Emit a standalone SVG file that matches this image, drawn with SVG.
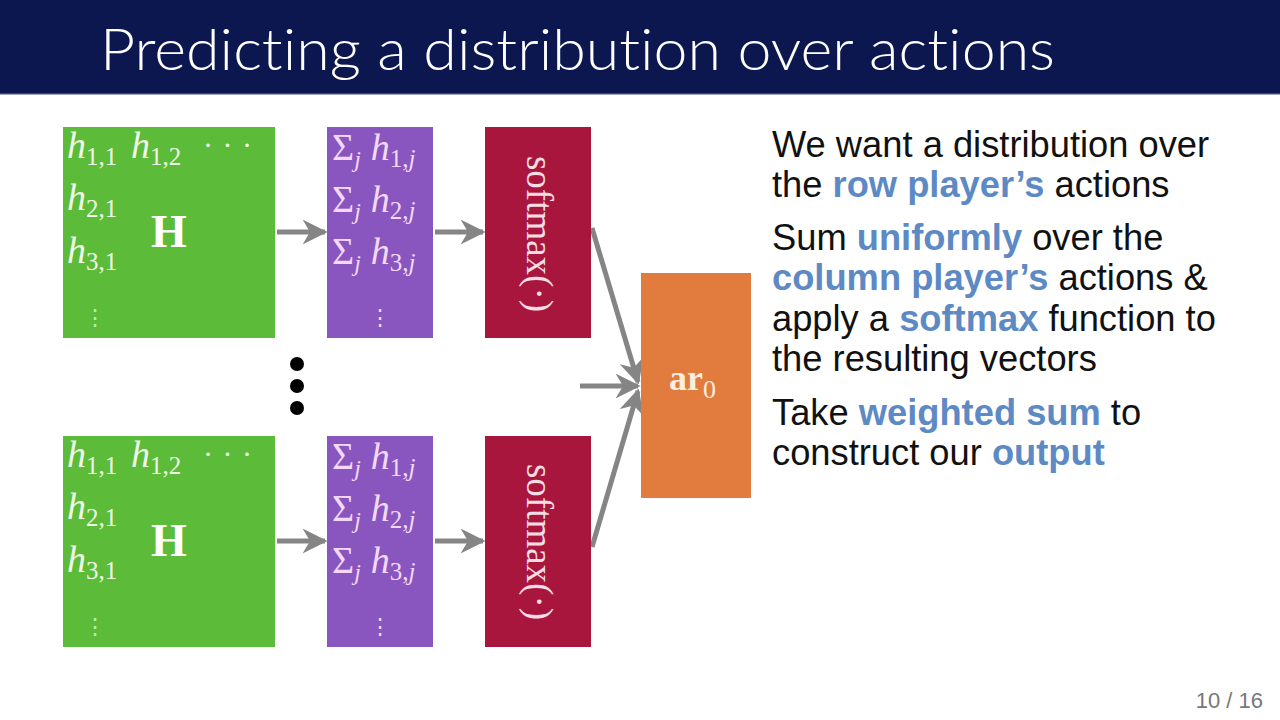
<svg xmlns="http://www.w3.org/2000/svg" width="1280" height="720" viewBox="0 0 1280 720">
<defs>
<style>
.math{font-family:"Liberation Serif","DejaVu Serif",serif;}
.it{font-style:italic;}
.gtxt{fill:#eef9e6;}
.ptxt{fill:#f3d9f7;}
.body{font-family:"Liberation Sans",Arial,sans-serif;font-size:36.3px;fill:#111111;}
.hl{fill:#5d8ac4;font-weight:bold;}
.conn{stroke:#858585;stroke-width:5;fill:none;marker-end:url(#ah);}
</style>
<marker id="ah" viewBox="0 0 10 10" refX="9" refY="5" markerWidth="5" markerHeight="5" markerUnits="strokeWidth" orient="auto">
<path d="M0,0 L10,5 L0,10 L3,5 Z" fill="#858585"/>
</marker>
</defs>
<rect x="0" y="0" width="1280" height="720" fill="#ffffff"/>
<g id="title">
<rect x="0" y="0" width="1280" height="94" fill="#0c1750"/>
<rect x="0" y="93" width="1280" height="1.5" fill="#3a4a80"/>
<text x="100" y="70" font-family="Lato,'Open Sans',sans-serif" font-weight="300" font-size="57" fill="#ffffff" style="font-variant-ligatures:none" textLength="955" lengthAdjust="spacingAndGlyphs">Predicting a distribution over actions</text>
</g>

<g id="connectors">
<line class="conn" x1="277" y1="232" x2="325" y2="232"/>
<line class="conn" x1="435" y1="232" x2="483" y2="232"/>
<line class="conn" x1="277" y1="541" x2="325" y2="541"/>
<line class="conn" x1="435" y1="541" x2="483" y2="541"/>
<line class="conn" x1="592" y1="228" x2="638" y2="382"/>
<line class="conn" x1="580" y1="386" x2="638" y2="386"/>
<line class="conn" x1="592" y1="547" x2="638" y2="391"/>
</g>

<g id="H-top">
<rect x="63" y="127" width="212" height="211" fill="#5dbb3a"/>
<g class="math gtxt">
<text x="67" y="158" font-size="38"><tspan class="it">h</tspan><tspan font-size="25" dy="7">1,1</tspan></text>
<text x="131" y="158" font-size="38"><tspan class="it">h</tspan><tspan font-size="25" dy="7">1,2</tspan></text>
<text x="203" y="155" font-size="30" letter-spacing="1">· · ·</text>
<text x="67" y="210" font-size="38"><tspan class="it">h</tspan><tspan font-size="25" dy="7">2,1</tspan></text>
<text x="67" y="263" font-size="38"><tspan class="it">h</tspan><tspan font-size="25" dy="7">3,1</tspan></text>
<text x="169" y="247" font-size="46" font-weight="bold" text-anchor="middle" fill="#ffffff">H</text>
<text x="95" y="325" font-size="22" text-anchor="middle" fill="#b8f0a0" font-family="DejaVu Serif,serif">⋮</text>
</g>
</g>

<g id="sum-top">
<rect x="327" y="127" width="106" height="211" fill="#8956bf"/>
<g class="math ptxt">
<text x="332" y="160" font-size="38">Σ<tspan class="it" font-size="24" dy="7">j</tspan><tspan class="it" font-size="38" dx="10" dy="-7">h</tspan><tspan font-size="25" dy="7">1,</tspan><tspan class="it" font-size="25">j</tspan></text>
<text x="332" y="212" font-size="38">Σ<tspan class="it" font-size="24" dy="7">j</tspan><tspan class="it" font-size="38" dx="10" dy="-7">h</tspan><tspan font-size="25" dy="7">2,</tspan><tspan class="it" font-size="25">j</tspan></text>
<text x="332" y="264" font-size="38">Σ<tspan class="it" font-size="24" dy="7">j</tspan><tspan class="it" font-size="38" dx="10" dy="-7">h</tspan><tspan font-size="25" dy="7">3,</tspan><tspan class="it" font-size="25">j</tspan></text>
<text x="380" y="325" font-size="22" text-anchor="middle" font-family="DejaVu Serif,serif">⋮</text>
</g>
</g>

<g id="softmax-top">
<rect x="485" y="127" width="106" height="211" fill="#a9163d"/>
<text class="math" x="234" y="-527" transform="rotate(90)" font-size="37" fill="#f6dde3" text-anchor="middle">softmax(·)</text>
</g>

<g id="H-bottom">
<rect x="63" y="436" width="212" height="211" fill="#5dbb3a"/>
<g class="math gtxt">
<text x="67" y="467" font-size="38"><tspan class="it">h</tspan><tspan font-size="25" dy="7">1,1</tspan></text>
<text x="131" y="467" font-size="38"><tspan class="it">h</tspan><tspan font-size="25" dy="7">1,2</tspan></text>
<text x="203" y="464" font-size="30" letter-spacing="1">· · ·</text>
<text x="67" y="519" font-size="38"><tspan class="it">h</tspan><tspan font-size="25" dy="7">2,1</tspan></text>
<text x="67" y="572" font-size="38"><tspan class="it">h</tspan><tspan font-size="25" dy="7">3,1</tspan></text>
<text x="169" y="556" font-size="46" font-weight="bold" text-anchor="middle" fill="#ffffff">H</text>
<text x="95" y="634" font-size="22" text-anchor="middle" fill="#b8f0a0" font-family="DejaVu Serif,serif">⋮</text>
</g>
</g>

<g id="sum-bottom">
<rect x="327" y="436" width="106" height="211" fill="#8956bf"/>
<g class="math ptxt">
<text x="332" y="469" font-size="38">Σ<tspan class="it" font-size="24" dy="7">j</tspan><tspan class="it" font-size="38" dx="10" dy="-7">h</tspan><tspan font-size="25" dy="7">1,</tspan><tspan class="it" font-size="25">j</tspan></text>
<text x="332" y="521" font-size="38">Σ<tspan class="it" font-size="24" dy="7">j</tspan><tspan class="it" font-size="38" dx="10" dy="-7">h</tspan><tspan font-size="25" dy="7">2,</tspan><tspan class="it" font-size="25">j</tspan></text>
<text x="332" y="573" font-size="38">Σ<tspan class="it" font-size="24" dy="7">j</tspan><tspan class="it" font-size="38" dx="10" dy="-7">h</tspan><tspan font-size="25" dy="7">3,</tspan><tspan class="it" font-size="25">j</tspan></text>
<text x="380" y="634" font-size="22" text-anchor="middle" font-family="DejaVu Serif,serif">⋮</text>
</g>
</g>

<g id="softmax-bottom">
<rect x="485" y="436" width="106" height="211" fill="#a9163d"/>
<text class="math" x="542" y="-527" transform="rotate(90)" font-size="37" fill="#f6dde3" text-anchor="middle">softmax(·)</text>
</g>

<g id="ellipsis">
<circle cx="297" cy="364" r="7" fill="#000000"/>
<circle cx="297" cy="386" r="7" fill="#000000"/>
<circle cx="297" cy="408" r="7" fill="#000000"/>
</g>

<g id="ar0">
<rect x="641" y="273" width="110" height="225" fill="#e27c3e"/>
<text class="math" x="669" y="390" font-size="36" font-weight="bold" fill="#fbeede">ar<tspan font-weight="normal" font-size="26" dy="8">0</tspan></text>
</g>

<g id="bullets" class="body">
<text x="772" y="157">We want a distribution over</text>
<text x="772" y="197">the <tspan class="hl">row player’s</tspan> actions</text>
<text x="772" y="250">Sum <tspan class="hl">uniformly</tspan> over the</text>
<text x="772" y="290"><tspan class="hl">column player’s</tspan> actions &amp;</text>
<text x="772" y="331">apply a <tspan class="hl">softmax</tspan> function to</text>
<text x="772" y="371">the resulting vectors</text>
<text x="772" y="425">Take <tspan class="hl">weighted sum</tspan> to</text>
<text x="772" y="465">construct our <tspan class="hl">output</tspan></text>
</g>

<text id="pagenum" x="1263" y="708" font-family="'Liberation Sans',Arial,sans-serif" font-size="22" fill="#777777" text-anchor="end">10 / 16</text>
</svg>
